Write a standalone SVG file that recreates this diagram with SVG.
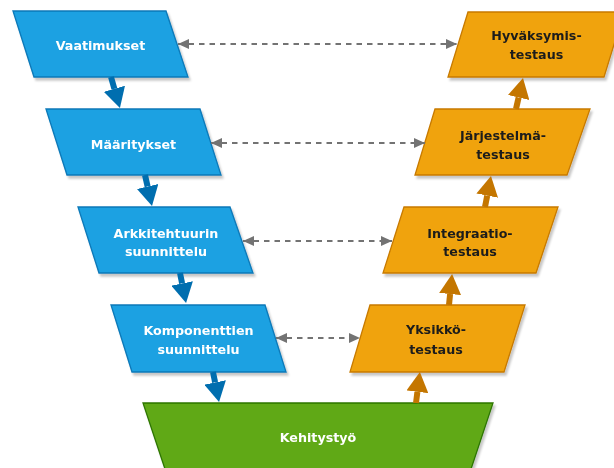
<svg xmlns="http://www.w3.org/2000/svg" width="614" height="468" viewBox="0 0 614 468">
  <style>
    .blue { fill: #1ba1e2; stroke: #0a78b8; stroke-width: 1.3; }
    .orange { fill: #f0a30a; stroke: #c77a05; stroke-width: 1.3; }
    .green { fill: #60a917; stroke: #2d7600; stroke-width: 1.3; }
    .lbl { font-family: "DejaVu Sans", Verdana, sans-serif; font-weight: bold; font-size: 12.7px; text-anchor: middle; }
    .lw { fill: #ffffff; }
    .ld { fill: #1c1c1c; }
    .flow-b { stroke: #006eaf; stroke-width: 6; fill: none; }
    .flow-o { stroke: #c47600; stroke-width: 6; fill: none; }
    .dash { stroke: #737373; stroke-width: 2.2; stroke-dasharray: 5.5 5; fill: none; }
  </style>
  <defs>
    <filter id="shadow" x="-10%" y="-10%" width="130%" height="140%">
      <feDropShadow dx="2" dy="3" stdDeviation="1.2" flood-color="#000" flood-opacity="0.22"/>
    </filter>
    <marker id="headB" markerUnits="userSpaceOnUse" viewBox="0 0 20 22" markerWidth="20" markerHeight="22" refX="0" refY="11" orient="auto">
      <path d="M0,0 L20,11 L0,22 z" fill="#006eaf"/>
    </marker>
    <marker id="headO" markerUnits="userSpaceOnUse" viewBox="0 0 20 22" markerWidth="20" markerHeight="22" refX="0" refY="11" orient="auto">
      <path d="M0,0 L20,11 L0,22 z" fill="#c47600"/>
    </marker>
    <marker id="headG" markerUnits="userSpaceOnUse" viewBox="0 0 11 11" markerWidth="11" markerHeight="11" refX="11" refY="5.5" orient="auto-start-reverse">
      <path d="M0,0.5 L11,5.5 L0,10.5 z" fill="#737373"/>
    </marker>
  </defs>

  <!-- Left branch: specification and design -->
  <g id="vaatimukset" filter="url(#shadow)">
    <polygon class="blue" points="13,11 166,11 188,77 34,77"/>
    <text class="lbl lw" x="100.5" y="49.5">Vaatimukset</text>
  </g>
  <g id="maaritykset" filter="url(#shadow)">
    <polygon class="blue" points="46,109 200,109 221,175 67,175"/>
    <text class="lbl lw" x="133.5" y="148.5">Määritykset</text>
  </g>
  <g id="arkkitehtuuri" filter="url(#shadow)">
    <polygon class="blue" points="78,207 230,207 253,273 99,273"/>
    <text class="lbl lw" x="166" y="237.5">Arkkitehtuurin</text>
    <text class="lbl lw" x="166" y="256">suunnittelu</text>
  </g>
  <g id="komponentit" filter="url(#shadow)">
    <polygon class="blue" points="111,305 265,305 286,372 132,372"/>
    <text class="lbl lw" x="198.5" y="335">Komponenttien</text>
    <text class="lbl lw" x="198.5" y="354">suunnittelu</text>
  </g>

  <!-- Bottom: implementation -->
  <g id="kehitystyo" filter="url(#shadow)">
    <polygon class="green" points="143,403 493,403 470,472 166,472"/>
    <text class="lbl lw" x="318" y="442">Kehitystyö</text>
  </g>

  <!-- Right branch: testing -->
  <g id="yksikkotestaus" filter="url(#shadow)">
    <polygon class="orange" points="370,305 525,305 504,372 350,372"/>
    <text class="lbl ld" x="436" y="333.5">Yksikkö-</text>
    <text class="lbl ld" x="436" y="353.5">testaus</text>
  </g>
  <g id="integraatiotestaus" filter="url(#shadow)">
    <polygon class="orange" points="404,207 558,207 536,273 383,273"/>
    <text class="lbl ld" x="470" y="237.5">Integraatio-</text>
    <text class="lbl ld" x="470" y="256">testaus</text>
  </g>
  <g id="jarjestelmatestaus" filter="url(#shadow)">
    <polygon class="orange" points="435,109 590,109 567,175 415,175"/>
    <text class="lbl ld" x="503" y="140">Järjestelmä-</text>
    <text class="lbl ld" x="503" y="158.5">testaus</text>
  </g>
  <g id="hyvaksymistestaus" filter="url(#shadow)">
    <polygon class="orange" points="468,12 624,12 604,77 448,77"/>
    <text class="lbl ld" x="536.5" y="39.5">Hyväksymis-</text>
    <text class="lbl ld" x="536.5" y="58.5">testaus</text>
  </g>

  <!-- Connectors -->
  <g id="connectors">
    <!-- design flow downward -->
    <path class="flow-b" d="M111,77 L114.4,88.8" marker-end="url(#headB)"/>
    <path class="flow-b" d="M145,175 L147.6,186.5" marker-end="url(#headB)"/>
    <path class="flow-b" d="M180,273 L182.1,283.4" marker-end="url(#headB)"/>
    <path class="flow-b" d="M213,372 L215.1,382.4" marker-end="url(#headB)"/>
    <!-- testing flow upward -->
    <path class="flow-o" d="M416,403 L417.4,391.8" marker-end="url(#headO)"/>
    <path class="flow-o" d="M449,305 L450.1,294" marker-end="url(#headO)"/>
    <path class="flow-o" d="M485,207 L487.2,195.6" marker-end="url(#headO)"/>
    <path class="flow-o" d="M516,109 L518.6,97.5" marker-end="url(#headO)"/>
    <!-- verification links -->
    <path class="dash" d="M178,44 L457,44" marker-start="url(#headG)" marker-end="url(#headG)"/>
    <path class="dash" d="M211,143 L425,143" marker-start="url(#headG)" marker-end="url(#headG)"/>
    <path class="dash" d="M243,241 L392,241" marker-start="url(#headG)" marker-end="url(#headG)"/>
    <path class="dash" d="M276,338 L360,338" marker-start="url(#headG)" marker-end="url(#headG)"/>
  </g>
</svg>
